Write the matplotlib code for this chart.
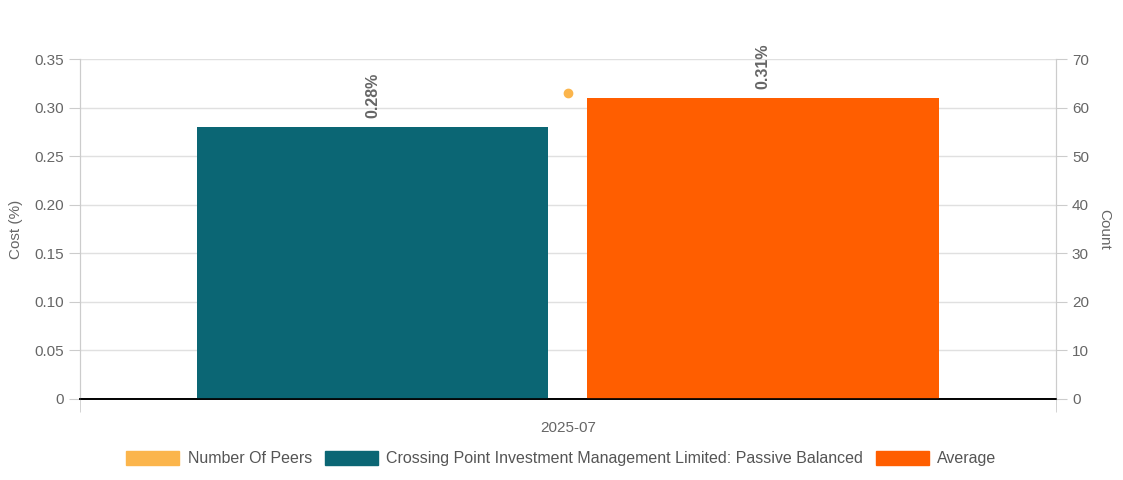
import matplotlib.pyplot as plt
from matplotlib.patches import Patch

plt.rcParams['font.family'] = ['Liberation Sans', 'DejaVu Sans']

category = ['2025-07']
series_names = ['Crossing Point Investment Management Limited: Passive Balanced', 'Average']
costs = [0.28, 0.31]
peers = [63]
bar_colors = ['#0b6674', '#ff5e00']
peer_color = '#fbb54c'

fig = plt.figure(figsize=(11.23, 4.8), dpi=100)
ax = fig.add_axes([0.0712, 0.16875, 0.8691, 0.7083])
ax2 = ax.twinx()

width = 0.36
offsets = [-0.2, 0.2]
for name, val, off, col in zip(series_names, costs, offsets, bar_colors):
    ax.bar(off, val, width=width, color=col, zorder=3)
    ax.text(off, val + 0.009, f'{val:.2f}%', rotation=90, ha='center', va='bottom',
            fontsize=11.5, fontweight='bold', color='#666666')

ax2.plot([0], peers, 'o', color=peer_color, markersize=6, zorder=5)

ax.set_xlim(-0.5, 0.5)
ax.set_ylim(0, 0.35)
ax2.set_ylim(0, 70)
ax.set_yticks([i * 0.05 for i in range(8)])
ax.set_yticklabels(['0'] + [f'{i * 0.05:.2f}' for i in range(1, 8)])
ax2.set_yticks(range(0, 80, 10))

ax.set_xticks([0])
ax.set_xticklabels(category)
ax.set_xticks([-0.5, 0.5], minor=True)
ax.tick_params(axis='x', which='major', length=0, pad=16, labelsize=11, labelcolor='#666666')
ax.tick_params(axis='x', which='minor', length=9, color='#cccccc')
ax.tick_params(axis='y', length=8, color='#cccccc', labelsize=11, labelcolor='#666666')
ax2.tick_params(axis='y', length=8, color='#cccccc', labelsize=11, labelcolor='#666666')

ax.grid(axis='y', color='#e0e0e0', linewidth=1, zorder=0)
ax.set_axisbelow(True)

for a in (ax, ax2):
    a.spines['top'].set_visible(False)
    a.spines['left'].set_color('#cccccc')
    a.spines['right'].set_color('#cccccc')
    a.spines['bottom'].set_color('black')
    a.spines['bottom'].set_linewidth(1.2)

ax.set_ylabel('Cost (%)', fontsize=11, color='#666666', labelpad=8)
ax2.set_ylabel('Count', fontsize=11, color='#666666', rotation=270, labelpad=16)

handles = [Patch(color=peer_color, label='Number Of Peers')]
handles += [Patch(color=c, label=n) for n, c in zip(series_names, bar_colors)]
fig.legend(handles=handles, loc='center', bbox_to_anchor=(0.5, 0.045), ncol=3,
           frameon=False, fontsize=11.5, handlelength=3.3, handleheight=1.0,
           columnspacing=0.8, handletextpad=0.55, labelcolor='#555555')

fig.savefig('out.png', dpi=100)
